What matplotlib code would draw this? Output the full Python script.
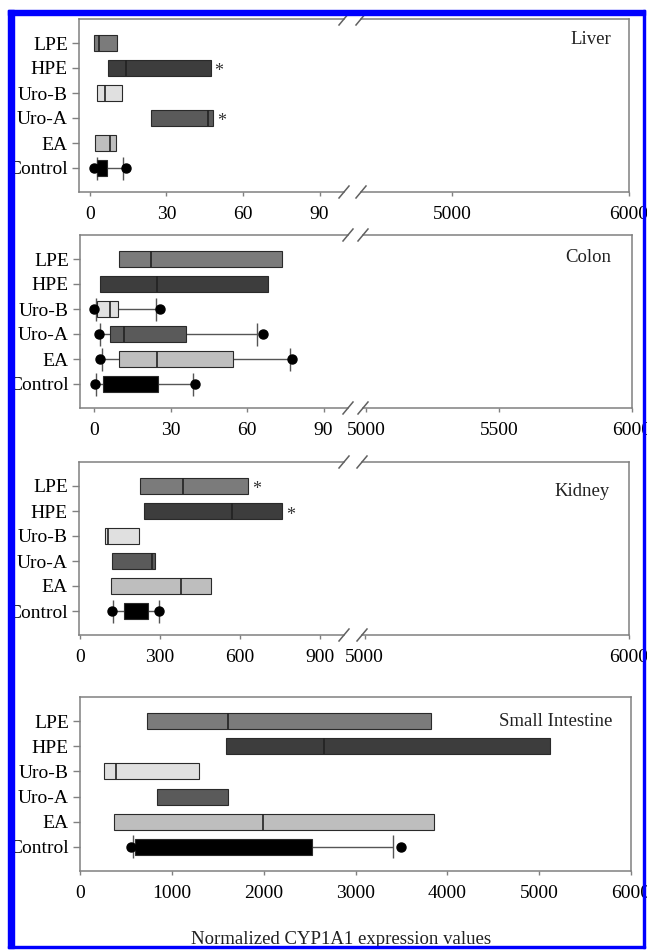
import matplotlib
matplotlib.use("Agg")
import matplotlib.pyplot as plt
from matplotlib.patches import Rectangle
from matplotlib.lines import Line2D

plt.rcParams['font.family'] = ['Liberation Serif', 'DejaVu Serif']

W, H = 647, 950

categories = ['LPE', 'HPE', 'Uro-B', 'Uro-A', 'EA', 'Control']
colors = ['#7b7b7b', '#3d3d3d', '#e0e0e0', '#5a5a5a', '#bebebe', '#000000']

# ---- Liver ----
liver_q1 = [1.6, 7.2, 2.9, 23.9, 2.0, 2.8]
liver_q3 = [10.5, 47.3, 12.4, 48.4, 10.2, 6.8]
liver_med = [3.7, 14.1, 5.9, 46.1, 7.8, None]
liver_cap_lo = [None, None, None, None, None, 2.6]
liver_cap_hi = [None, None, None, None, None, 13.1]
liver_dot_lo = [None, None, None, None, None, 1.5]
liver_dot_hi = [None, None, None, None, None, 14.0]
liver_star = [False, True, False, True, False, False]

# ---- Colon ----
colon_q1 = [9.9, 2.4, 1.3, 6.3, 9.9, 3.7]
colon_q3 = [73.6, 68.1, 9.5, 36.0, 54.4, 25.2]
colon_med = [22.2, 24.8, 6.3, 11.8, 24.8, None]
colon_cap_lo = [None, None, 0.8, 2.4, 3.0, 0.8]
colon_cap_hi = [None, None, 24.3, 63.8, 76.9, 38.7]
colon_dot_lo = [None, None, 0.0, 1.8, 2.4, 0.4]
colon_dot_hi = [None, None, 25.9, 66.4, 77.5, 39.6]
colon_star = [False] * 6

# ---- Kidney ----
kidney_q1 = [225, 241, 95, 119, 115, 165]
kidney_q3 = [631, 759, 222, 281, 491, 254]
kidney_med = [385, 571, 106, 269, 379, None]
kidney_cap_lo = [None, None, None, None, None, 125]
kidney_cap_hi = [None, None, None, None, None, 295]
kidney_dot_lo = [None, None, None, None, None, 119]
kidney_dot_hi = [None, None, None, None, None, 297]
kidney_star = [True, True, False, False, False, False]

# ---- Small Intestine ----
si_q1 = [726, 1590, 265, 835, 374, 599]
si_q3 = [3822, 5118, 1299, 1608, 3855, 2523]
si_med = [1608, 2657, 388, None, 1996, None]
si_cap_lo = [None, None, None, None, None, 581]
si_cap_hi = [None, None, None, None, None, 3412]
si_dot_lo = [None, None, None, None, None, 555]
si_dot_hi = [None, None, None, None, None, 3492]
si_star = [False] * 6

xlabel = 'Normalized CYP1A1 expression values'

fig = plt.figure(figsize=(W / 100, H / 100), dpi=100)

SPINE = '#808080'
FS = 14


def rect(x0, x1, yt, yb):
    return [x0 / W, 1 - yb / H, (x1 - x0) / W, (yb - yt) / H]


def style(ax, left=True, right=True):
    for s in ax.spines.values():
        s.set_color(SPINE)
        s.set_linewidth(1.1)
    ax.spines['left'].set_visible(left)
    ax.spines['right'].set_visible(right)
    ax.set_ylim(-0.96, 5.96)
    ax.tick_params(axis='x', direction='out', length=3, width=1, color=SPINE,
                   pad=7, labelsize=FS)
    if left:
        ax.set_yticks(range(6))
        ax.set_yticklabels(categories[::-1])
        ax.tick_params(axis='y', direction='out', length=5, width=1,
                       color=SPINE, pad=3, labelsize=FS)
    else:
        ax.set_yticks([])
    ax.set_facecolor('none')


def draw(ax, q1, q3, med, clo, chi, dlo, dhi, star):
    n = len(categories)
    h = 0.64
    for i in range(n):
        y = n - 1 - i
        if clo[i] is not None:
            ax.hlines(y, clo[i], chi[i], color='#555555', lw=1.0, zorder=1)
            ax.vlines([clo[i], chi[i]], y - 0.46, y + 0.46, color='#555555',
                      lw=1.0, zorder=1)
        ax.barh(y, q3[i] - q1[i], left=q1[i], height=h, color=colors[i],
                edgecolor='#2a2a2a', linewidth=0.8, zorder=2)
        if med[i] is not None:
            ax.vlines(med[i], y - h / 2, y + h / 2, color='#222222', lw=1.2,
                      zorder=3)
        if dlo[i] is not None:
            ax.plot([dlo[i], dhi[i]], [y, y], 'o', color='black', ms=6.5,
                    zorder=4, clip_on=False)
        if star[i]:
            ax.annotate('*', xy=(q3[i], y), xytext=(8, -4),
                        textcoords='offset pixels', ha='center', va='center',
                        fontsize=13, color='#333333')


def slash(xc, yc):
    fig.add_artist(Line2D([(xc - 5) / W, (xc + 5) / W],
                          [1 - (yc + 6) / H, 1 - (yc - 6) / H],
                          color='#606060', lw=1.1))


def title(txt, x, y):
    fig.text(x / W, 1 - y / H, txt, ha='right', va='center', fontsize=13.5,
             color='#222222')


# Panels with broken axis
panels = [
    dict(yt=19, yb=192, lx=(79, 344), rx=(361, 629), llim=(-4.3, 99.6),
         rlim=(4486, 6000), lt=[0, 30, 60, 90], rt=[5000, 6000],
         data=(liver_q1, liver_q3, liver_med, liver_cap_lo, liver_cap_hi,
               liver_dot_lo, liver_dot_hi, liver_star),
         title=('Liver', 611, 39)),
    dict(yt=235, yb=408, lx=(80, 348), rx=(363, 632), llim=(-5.5, 99.6),
         rlim=(4989, 6000), lt=[0, 30, 60, 90], rt=[5000, 5500, 6000],
         data=(colon_q1, colon_q3, colon_med, colon_cap_lo, colon_cap_hi,
               colon_dot_lo, colon_dot_hi, colon_star),
         title=('Colon', 611, 257)),
    dict(yt=462, yb=635, lx=(79, 344), rx=(362, 629), llim=(-3.75, 990),
         rlim=(4990, 6000), lt=[0, 300, 600, 900], rt=[5000, 6000],
         data=(kidney_q1, kidney_q3, kidney_med, kidney_cap_lo, kidney_cap_hi,
               kidney_dot_lo, kidney_dot_hi, kidney_star),
         title=('Kidney', 610, 491)),
]

for p in panels:
    axl = fig.add_axes(rect(p['lx'][0], p['lx'][1], p['yt'], p['yb']))
    axr = fig.add_axes(rect(p['rx'][0], p['rx'][1], p['yt'], p['yb']))
    style(axl, left=True, right=False)
    style(axr, left=False, right=True)
    axl.set_xlim(*p['llim'])
    axr.set_xlim(*p['rlim'])
    axl.set_xticks(p['lt'])
    axr.set_xticks(p['rt'])
    draw(axl, *p['data'])
    for xc in (p['lx'][1], p['rx'][0]):
        slash(xc, p['yt'])
        slash(xc, p['yb'])
    title(*p['title'])

# Small intestine
ax4 = fig.add_axes(rect(80, 631, 697, 871))
style(ax4, left=True, right=True)
ax4.set_xlim(0, 6000)
ax4.set_xticks(range(0, 6001, 1000))
draw(ax4, si_q1, si_q3, si_med, si_cap_lo, si_cap_hi, si_dot_lo, si_dot_hi,
     si_star)
title('Small Intestine', 612, 722)

fig.text(341 / W, 1 - 944 / H, xlabel, ha='center', va='baseline',
         fontsize=13.5, color='#222222')

# Blue frame
blue = '#0000ff'
for (x0, y0, w, h) in [(8, 10, 637, 5), (8, 10, 6, 938), (643, 10, 2, 938),
                       (8, 946, 637, 2)]:
    fig.add_artist(Rectangle((x0 / W, 1 - (y0 + h) / H), w / W, h / H,
                             transform=fig.transFigure, color=blue,
                             zorder=10))

fig.savefig('out.png', dpi=100)
